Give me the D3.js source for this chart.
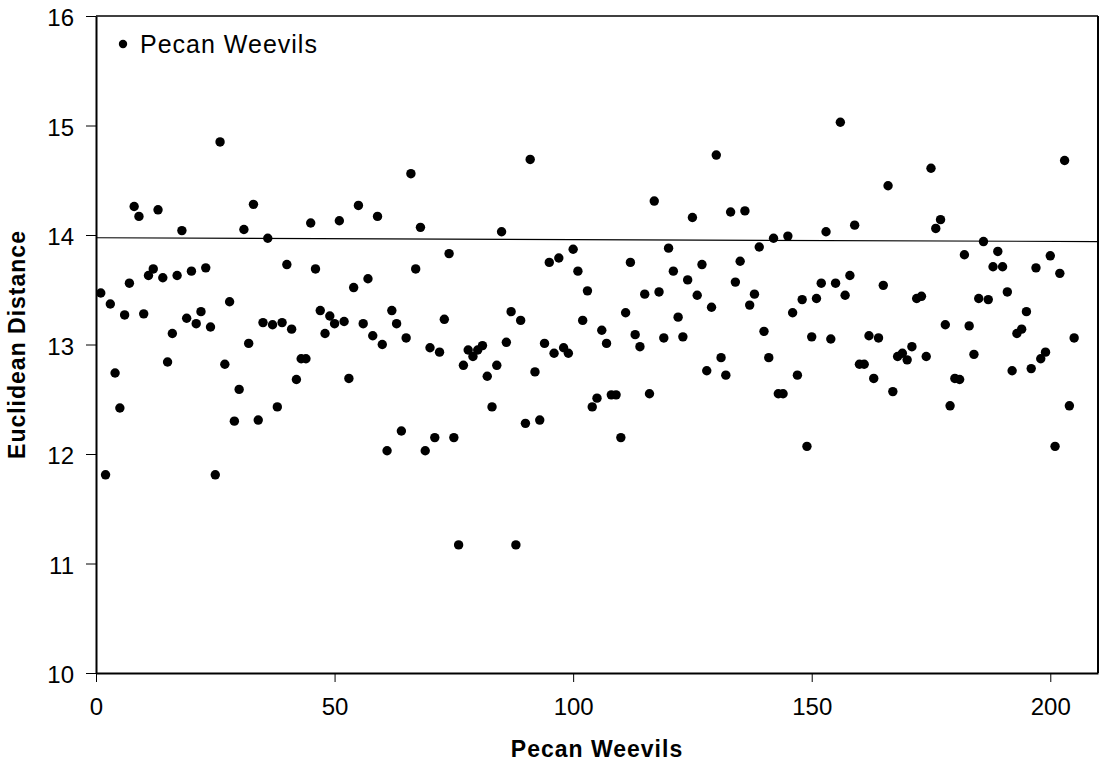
<!DOCTYPE html>
<meta charset="utf-8">
<style>
body { margin: 0; background: #fff; }
text { font-family: "Liberation Sans", Arial, sans-serif; fill: #000; }
.axis path, .axis line { stroke: #000; }
.axis text { font-size: 24px; }
.title { font-size: 23px; font-weight: bold; letter-spacing: 1px; }
</style>
<body>
<script src="https://d3js.org/d3.v7.min.js"></script>
<script>

// Euclidean distance of each pecan weevil (weevil number = position + 1)
var distance = [
  13.47, 11.81, 13.37, 12.74, 12.42, 13.27, 13.56, 14.26, 14.17, 13.28,
  13.63, 13.69, 14.23, 13.61, 12.84, 13.10, 13.63, 14.04, 13.24, 13.67,
  13.19, 13.30, 13.70, 13.16, 11.81, 14.85, 12.82, 13.39, 12.30, 12.59,
  14.05, 13.01, 14.28, 12.31, 13.20, 13.97, 13.18, 12.43, 13.20, 13.73,
  13.14, 12.68, 12.87, 12.87, 14.11, 13.69, 13.31, 13.10, 13.26, 13.19,
  14.13, 13.21, 12.69, 13.52, 14.27, 13.19, 13.60, 13.08, 14.17, 13.00,
  12.03, 13.31, 13.19, 12.21, 13.06, 14.56, 13.69, 14.07, 12.03, 12.97,
  12.15, 12.93, 13.23, 13.83, 12.15, 11.17, 12.81, 12.95, 12.89, 12.95,
  12.99, 12.71, 12.43, 12.81, 14.03, 13.02, 13.30, 11.17, 13.22, 12.28,
  14.69, 12.75, 12.31, 13.01, 13.75, 12.92, 13.79, 12.97, 12.92, 13.87,
  13.67, 13.22, 13.49, 12.43, 12.51, 13.13, 13.01, 12.54, 12.54, 12.15,
  13.29, 13.75, 13.09, 12.98, 13.46, 12.55, 14.31, 13.48, 13.06, 13.88,
  13.67, 13.25, 13.07, 13.59, 14.16, 13.45, 13.73, 12.76, 13.34, 14.73,
  12.88, 12.72, 14.21, 13.57, 13.76, 14.22, 13.36, 13.46, 13.89, 13.12,
  12.88, 13.97, 12.55, 12.55, 13.99, 13.29, 12.72, 13.41, 12.07, 13.07,
  13.42, 13.56, 14.03, 13.05, 13.56, 15.03, 13.45, 13.63, 14.09, 12.82,
  12.82, 13.08, 12.69, 13.06, 13.54, 14.45, 12.57, 12.89, 12.92, 12.86,
  12.98, 13.42, 13.44, 12.89, 14.61, 14.06, 14.14, 13.18, 12.44, 12.69,
  12.68, 13.82, 13.17, 12.91, 13.42, 13.94, 13.41, 13.71, 13.85, 13.71,
  13.48, 12.76, 13.10, 13.14, 13.30, 12.78, 13.70, 12.87, 12.93, 13.81,
  12.07, 13.65, 14.68, 12.44, 13.06
];

// reference line (start and end of the plotted range)
var refLineX = [0, 210];
var refLineY = [13.975, 13.94];

var xTicks = [0, 50, 100, 150, 200];
var yTicks = [10, 11, 12, 13, 14, 15, 16];

var margin = {top: 16, right: 3, bottom: 92, left: 96},
    width = 1101 - margin.left - margin.right,
    height = 765 - margin.top - margin.bottom;

var x = d3.scaleLinear().domain([0, 210]).range([0, width]);
var y = d3.scaleLinear().domain([10, 16]).range([height, 0]);

var svg = d3.select("body").append("svg")
    .attr("width", 1101)
    .attr("height", 765)
  .append("g")
    .attr("transform", "translate(" + margin.left + "," + margin.top + ")");

// reference line
svg.append("line")
    .attr("x1", x(refLineX[0])).attr("y1", y(refLineY[0]))
    .attr("x2", x(refLineX[1])).attr("y2", y(refLineY[1]))
    .attr("stroke", "#000")
    .attr("stroke-width", 1.2);

// points
svg.selectAll(".dot")
    .data(distance)
  .enter().append("circle")
    .attr("class", "dot")
    .attr("cx", function(d, i) { return x(i + 1); })
    .attr("cy", function(d) { return y(d); })
    .attr("r", 4.7)
    .attr("fill", "#000");

// axes
var xAxis = svg.append("g")
    .attr("class", "axis")
    .attr("transform", "translate(0," + height + ")")
    .call(d3.axisBottom(x).tickValues(xTicks).tickFormat(d3.format("d"))
      .tickSize(9).tickPadding(16).tickSizeOuter(0));
xAxis.select(".domain").attr("stroke-width", 2);

var yAxis = svg.append("g")
    .attr("class", "axis")
    .call(d3.axisLeft(y).tickValues(yTicks).tickFormat(d3.format("d"))
      .tickSize(10).tickPadding(12).tickSizeOuter(0));
yAxis.select(".domain").attr("stroke-width", 2);
yAxis.selectAll(".tick text").attr("dy", "0.4em");

// frame top and right
svg.append("line").attr("x1", 0).attr("x2", width).attr("y1", 0).attr("y2", 0)
    .attr("stroke", "#000").attr("stroke-width", 1.5);
svg.append("line").attr("x1", width).attr("x2", width).attr("y1", 0).attr("y2", height)
    .attr("stroke", "#000").attr("stroke-width", 2);

// axis titles
svg.append("text")
    .attr("class", "title")
    .attr("x", width / 2)
    .attr("y", height + 84)
    .attr("text-anchor", "middle")
    .text("Pecan Weevils");

svg.append("text")
    .attr("class", "title")
    .attr("transform", "translate(" + (25 - margin.left) + "," + (height / 2) + ") rotate(-90)")
    .attr("text-anchor", "middle")
    .text("Euclidean Distance");

// legend
var legend = svg.append("g").attr("transform", "translate(27,28)");
legend.append("circle").attr("r", 4.2).attr("fill", "#000");
legend.append("text")
    .attr("x", 17)
    .attr("y", 9.3)
    .style("font-size", "25px")
    .style("letter-spacing", "1px")
    .text("Pecan Weevils");

</script>
</body>
